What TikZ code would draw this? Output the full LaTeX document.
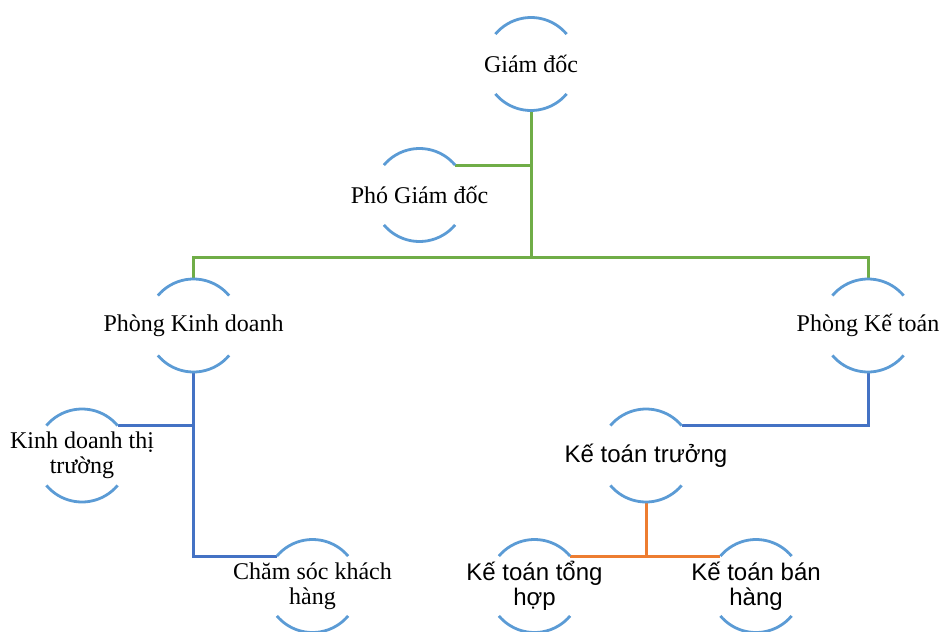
\documentclass[tikz,border=0pt]{standalone}
\usepackage{fontspec}
\setmainfont{Liberation Serif}
\newfontfamily\arialfont{Liberation Sans}
\usetikzlibrary{positioning}
\definecolor{ringblue}{HTML}{5B9BD5}
\definecolor{leafgreen}{HTML}{70AD47}
\definecolor{deptblue}{HTML}{4472C4}
\definecolor{accorange}{HTML}{ED7D31}
\begin{document}
\begin{tikzpicture}[on grid, semithick,
   unit/.style={circle, minimum size=46.5pt, inner sep=0pt, outer sep=0pt},
   serifname/.style={font=\fontsize{12}{12.5}\selectfont, align=center},
   sansname/.style={font=\arialfont\fontsize{12}{12.5}\selectfont, align=center},
   ring/.style={ringblue, line width=1.4pt},
   link/.style={line width=1.5pt}]
   \useasboundingbox (0,0) rectangle (470.5pt,-315.5pt);
   \node (gd)   [unit, label={[serifname]center:Giám đốc}] at (265.5pt,-32pt) {};
   \node (pgd)  [unit, below left=65.5pt and 55.75pt of gd, label={[serifname]center:Phó Giám đốc}] {};
   \node (pkd)  [unit, below left=130.75pt and 168.75pt of gd, label={[serifname]center:Phòng Kinh doanh}] {};
   \node (pkt)  [unit, below right=130.75pt and 168.5pt of gd, label={[serifname]center:Phòng Kế toán}] {};
   \node (kdtt) [unit, below left=65pt and 55.75pt of pkd, label={[serifname]center:{Kinh doanh thị\\trường}}] {};
   \node (cskh) [unit, below right=130.25pt and 59.5pt of pkd, label={[serifname]center:{Chăm sóc khách\\hàng}}] {};
   \node (ktt)  [unit, below left=65pt and 111pt of pkt, label={[sansname]center:Kế toán trưởng}] {};
   \node (ktth) [unit, below left=65.25pt and 55.75pt of ktt, label={[sansname]center:{Kế toán tổng\\hợp}}] {};
   \node (ktbh) [unit, below right=65.25pt and 55pt of ktt, label={[sansname]center:{Kế toán bán\\hàng}}] {};
   \path (gd.south) ++(0,-73.5pt) coordinate (gbus);
   % green lines
   \draw[link, leafgreen] (gd.south) -- (gbus);
   \draw[link, leafgreen] (pgd.40) -- (pgd.40 -| gd.south);
   \draw[link, leafgreen] (pkd.north) |- (gbus) -| (pkt.north);
   % blue lines
   \draw[link, deptblue] (pkd.south) |- (cskh.140);
   \draw[link, deptblue] (kdtt.40) -- (kdtt.40 -| pkd.south);
   \draw[link, deptblue] (pkt.south) |- (ktt.40);
   % orange lines
   \draw[link, accorange] (ktt.south) -- (ktt.south |- ktth.40);
   \draw[link, accorange] (ktth.40) -- (ktbh.140);
   % open circles
   \foreach \n in {gd,pgd,pkd,pkt,kdtt,cskh,ktt,ktth,ktbh} {
      \draw[ring] (\n.40) arc[start angle=40, end angle=140, radius=23.25pt];
      \draw[ring] (\n.220) arc[start angle=220, end angle=320, radius=23.25pt];
   }
\end{tikzpicture}
\end{document}
